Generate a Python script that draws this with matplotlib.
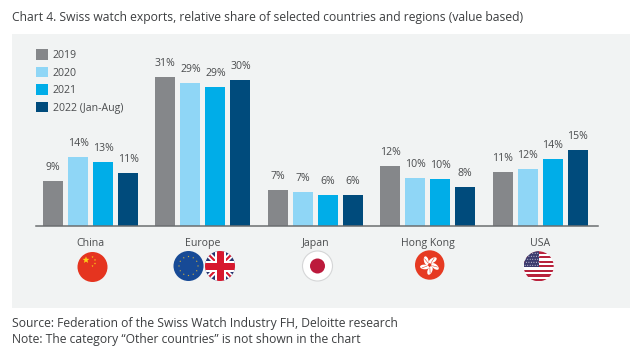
import numpy as np
import matplotlib
matplotlib.use('Agg')
import matplotlib.pyplot as plt
from matplotlib.patches import Rectangle, Circle, Polygon, Ellipse

plt.rcParams['font.family'] = ['Open Sans', 'DejaVu Sans']

# Data (bar heights in %, labels as printed)
regions = ['China', 'Europe', 'Japan', 'Hong Kong', 'USA']
years = ['2019', '2020', '2021', '2022 (Jan-Aug)']
v2019 = [9.4, 31.0, 7.5, 12.5, 11.3]
v2020 = [14.4, 29.8, 7.1, 10.0, 11.9]
v2021 = [13.3, 29.0, 6.5, 9.8, 14.0]
v2022 = [11.0, 30.4, 6.5, 8.1, 15.8]
labels2019 = ['9%', '31%', '7%', '12%', '11%']
labels2020 = ['14%', '29%', '7%', '10%', '12%']
labels2021 = ['13%', '29%', '6%', '10%', '14%']
labels2022 = ['11%', '30%', '6%', '8%', '15%']
colors = ['#85878a', '#8fd6f6', '#00ade8', '#004b7c']

title = 'Chart 4. Swiss watch exports, relative share of selected countries and regions (value based)'
source = 'Source: Federation of the Swiss Watch Industry FH, Deloitte research'
note = 'Note: The category \u201cOther countries\u201d is not shown in the chart'

text_col = '#4a4c4e'
W, H = 640, 355
fig = plt.figure(figsize=(W / 100, H / 100), dpi=100, facecolor='white')

# background layer in pixel coordinates: panel, titles, flags
bg = fig.add_axes([0, 0, 1, 1], zorder=0)
bg.set_xlim(0, W)
bg.set_ylim(H, 0)
bg.axis('off')
bg.add_patch(Rectangle((12, 34), 618, 274, fc='#f1f3f3', ec='none'))
bg.text(12, 17.5, title, fontsize=8.78, color='#3c3e40', va='center', ha='left')
bg.text(12, 324, source, fontsize=8.78, color='#3c3e40', va='center', ha='left')
bg.text(12, 340, note, fontsize=8.78, color='#3c3e40', va='center', ha='left')


def disc(cx, cy, r, color):
    c = Circle((cx, cy), r, fc=color, ec='none', zorder=2)
    bg.add_patch(c)
    return c


def star(cx, cy, r, color, z=4):
    ang = np.deg2rad(np.arange(10) * 36 - 90)
    rad = np.where(np.arange(10) % 2 == 0, r, r * 0.42)
    bg.add_patch(Polygon(np.c_[cx + rad * np.cos(ang), cy + rad * np.sin(ang)], fc=color, ec='none', zorder=z))


# China
cx, cy = 92.5, 267
disc(cx, cy, 15, '#e5341f')
star(cx - 6.5, cy - 7, 3.6, '#fcd116')
for dx, dy in [(0, -10), (2.5, -7), (2.5, -3.5), (0, -1)]:
    star(cx + dx, cy + dy, 1.1, '#fcd116')

# EU
cx, cy = 188.5, 266
disc(cx, cy, 15, '#174a96')
for a in np.arange(12) * 30:
    star(cx + 9.5 * np.cos(np.deg2rad(a)), cy + 9.5 * np.sin(np.deg2rad(a)), 0.95, '#e8bd35')

# UK
cx, cy = 220, 266
base = disc(cx, cy, 15, '#27336f')
for p, col in [([(-15, -15), (-11, -15), (15, 11), (15, 15), (11, 15), (-15, -11)], 'white'),
               ([(15, -15), (11, -15), (-15, 11), (-15, 15), (-11, 15), (15, -11)], 'white'),
               ([(-15, -15), (-13.5, -15), (15, 13.5), (15, 15), (13.5, 15), (-15, -13.5)], '#d7182e'),
               ([(15, -15), (13.5, -15), (-15, 13.5), (-15, 15), (-13.5, 15), (15, -13.5)], '#d7182e')]:
    q = bg.add_patch(Polygon([(cx + x, cy + y) for x, y in p], fc=col, ec='none', zorder=3))
    q.set_clip_path(base)
for x, y, w, h, col in [(-15, -5.5, 30, 11, 'white'), (-5.5, -15, 11, 30, 'white'),
                        (-15, -3.5, 30, 7, '#d7182e'), (-3.5, -15, 7, 30, '#d7182e')]:
    q = bg.add_patch(Rectangle((cx + x, cy + y), w, h, fc=col, ec='none', zorder=4))
    q.set_clip_path(base)

# Japan
cx, cy = 317.5, 266
bg.add_patch(Circle((cx, cy), 15, fc='white', ec='#d5d6d7', lw=0.8, zorder=2))
disc(cx, cy, 7.5, '#bc1a3c').set_zorder(3)

# Hong Kong
cx, cy = 429.7, 265
disc(cx, cy, 14.7, '#e63a22')
for a in np.arange(5) * 72 + 15:
    ca, sa = np.cos(np.deg2rad(a)), np.sin(np.deg2rad(a))
    bg.add_patch(Ellipse((cx + 5.5 * ca, cy + 5.5 * sa), 9, 4.6, angle=a + 25, fc='white', ec='none', zorder=3))
    bg.plot([cx + 3 * ca, cx + 8 * ca], [cy + 3 * sa, cy + 8 * sa], color='#e63a22', lw=0.4, zorder=4)

# USA
cx, cy = 538.7, 266.3
base = disc(cx, cy, 15, 'white')
for i in range(0, 13, 2):
    q = bg.add_patch(Rectangle((cx - 15, cy - 15 + i * 30 / 13), 30, 30 / 13, fc='#b8223c', ec='none', zorder=3))
    q.set_clip_path(base)
q = bg.add_patch(Rectangle((cx - 15, cy - 15), 15, 16, fc='#3c3b6e', ec='none', zorder=4))
q.set_clip_path(base)
for j in range(5):
    for i in range(6):
        sx, sy = cx - 13.5 + i * 2.5 + (j % 2) * 1.2, cy - 13 + j * 3
        q = bg.add_patch(Circle((sx, sy), 0.5, fc='#e8e8f0', ec='none', zorder=5))
        q.set_clip_path(base)

# bars: axes spans x 36..598, y 34..226 pixels
ax = fig.add_axes([36 / W, 1 - 226 / H, 562 / W, 192 / H], zorder=1)
ax.patch.set_alpha(0)
x = np.arange(len(regions))
series = [v2019, v2020, v2021, v2022]
bar_labels = [labels2019, labels2020, labels2021, labels2022]
handles = []
for i, (vals, labs) in enumerate(zip(series, bar_labels)):
    bars = ax.bar(x + (i - 1.5) * 0.2224, vals, width=0.178, color=colors[i], label=years[i])
    handles.append(bars)
    for b, lab in zip(bars, labs):
        ax.annotate(lab, (b.get_x() + b.get_width() / 2, b.get_height()), xytext=(0, 9.6),
                    textcoords='offset points', ha='center', va='center', fontsize=7.6, color=text_col)
ax.set_xlim(-0.485, 4.515)
ax.set_ylim(0, 40)
ax.set_yticks([])
ax.set_xticks(x, regions, fontsize=7.6, color=text_col)
ax.tick_params(axis='x', length=0, pad=8.5)
for s in ['top', 'left', 'right']:
    ax.spines[s].set_visible(False)
ax.spines['bottom'].set_color('#6b6e70')
ax.spines['bottom'].set_linewidth(1.1)

ax.legend(handles=handles, loc='upper left', bbox_to_anchor=(0, 0.92), frameon=False, fontsize=7.6,
          labelcolor=text_col, handlelength=1.15, handleheight=1.15, handletextpad=0.46,
          labelspacing=0.54, borderpad=0, borderaxespad=0)

fig.savefig('out.png', dpi=100)
